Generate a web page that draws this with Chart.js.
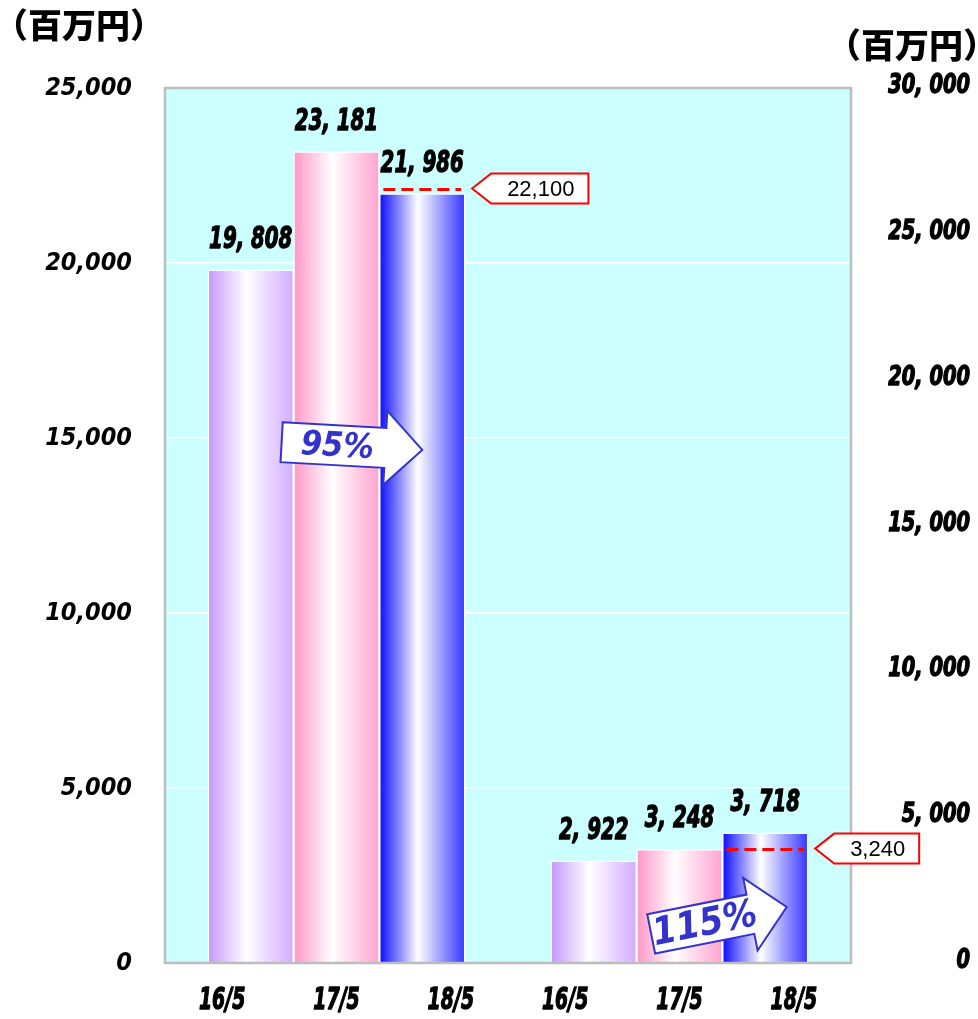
<!DOCTYPE html>
<html>
<head>
<meta charset="utf-8">
<script src="https://cdn.jsdelivr.net/npm/chart.js@4"></script>
<style>
  body { margin: 0; background: #fff; }
  #wrap { width: 978px; height: 1019px; }
</style>
</head>
<body>
<div id="wrap"><canvas id="salesChart" width="978" height="1019"></canvas></div>
<script>
// periods shown under each group of bars
const periods = ['16/5', '17/5', '18/5'];
// left group and right group results (百万円)
const groupA = [19808, 23181, 21986];
const groupB = [2922, 3248, 3718];
// plan values for the latest period of each group
const targets = [22100, 3240];
// year-on-year ratio shown in the arrows
const ratios = ['95%', '115%'];
// axis ranges
const leftMax = 25000, leftStep = 5000;
const rightMax = 30000, rightStep = 5000;

// bar colours per period: [edge, far edge]
const barColors = [
  ['#C596FF', '#D3ABFF'],
  ['#FF96C8', '#FFA3CF'],
  ['#0A0AFF', '#3535FF']
];

// slots: blank, group A, blank, group B, blank
const slots = [''].concat(periods, [''], periods, ['']);
const slotValues = [null].concat(groupA, [null], groupB, [null]);
const targetSlots = [3, 7];

const COND = "'DejaVu Sans Condensed', 'DejaVu Sans', sans-serif";

function spaced(v) {
  return v.toLocaleString('en-US').replace(/,/g, ', ');
}

// heavy squeezed text for the numbers drawn by hand
function squeezed(c, txt, x, y, align, size, sx) {
  c.save();
  c.translate(x, y);
  c.scale(sx, 1);
  c.font = 'italic bold ' + size + 'px ' + COND;
  c.textAlign = align;
  c.textBaseline = 'middle';
  c.fillStyle = '#000';
  c.strokeStyle = '#000';
  c.lineWidth = 1.3;
  c.lineJoin = 'round';
  c.strokeText(txt, 0, 0);
  c.fillText(txt, 0, 0);
  c.restore();
}

function barFill(ctx) {
  const chart = ctx.chart;
  const xs = chart.scales.x;
  const i = ctx.dataIndex;
  const c = barColors[(i % 4) - 1] || barColors[0];
  if (ctx.type !== 'data' || !xs) return c[0];
  const cx = xs.getPixelForValue(i);
  const half = (xs.getPixelForValue(1) - xs.getPixelForValue(0)) / 2;
  if (!isFinite(cx) || !isFinite(half) || half <= 0) return c[0];
  const g = chart.ctx.createLinearGradient(cx - half, 0, cx + half, 0);
  g.addColorStop(0, c[0]);
  g.addColorStop(0.45, '#ffffff');
  g.addColorStop(1, c[1]);
  return g;
}

// arrows in data coordinates: [start index, start value, tip index, tip value]
const arrowSpots = [
  [1.36, 14880, 3.0, 14660],
  [5.67, 830, 7.25, 1600]
];

function drawArrow(c, x0, y0, x1, y1, label, fontSize) {
  const len = Math.hypot(x1 - x0, y1 - y0);
  const ang = Math.atan2(y1 - y0, x1 - x0);
  const h = 20, H = 37, hl = 37;
  c.save();
  c.translate(x0, y0);
  c.rotate(ang);
  c.beginPath();
  c.moveTo(0, -h);
  c.lineTo(len - hl, -h);
  c.lineTo(len - hl, -H);
  c.lineTo(len, 0);
  c.lineTo(len - hl, H);
  c.lineTo(len - hl, h);
  c.lineTo(0, h);
  c.closePath();
  c.fillStyle = '#ffffff';
  c.fill();
  c.lineWidth = 2;
  c.strokeStyle = '#3333CC';
  c.stroke();
  c.fillStyle = '#3333CC';
  c.font = 'italic bold ' + fontSize + 'px ' + COND;
  c.textAlign = 'center';
  c.textBaseline = 'middle';
  c.fillText(label, (len - hl) / 2 + 4, 2);
  c.restore();
}

const decorations = {
  id: 'decorations',
  beforeDraw(chart) {
    const c = chart.ctx;
    const a = chart.chartArea;
    c.save();
    c.fillStyle = '#ffffff';
    c.fillRect(0, 0, chart.width, chart.height);
    c.fillStyle = '#CCFFFF';
    c.fillRect(a.left, a.top, a.right - a.left, a.bottom - a.top);
    c.restore();
  },
  afterDatasetsDraw(chart) {
    const c = chart.ctx;
    const a = chart.chartArea;
    const ys = chart.scales.y;
    const y2 = chart.scales.y2;
    const xs = chart.scales.x;
    const xl = chart.scales.xl;
    const bars = chart.getDatasetMeta(0).data;
    c.save();

    // plot frame
    c.strokeStyle = '#BDBDBD';
    c.lineWidth = 2.5;
    c.strokeRect(a.left, a.top, a.right - a.left, a.bottom - a.top);

    // value labels
    slotValues.forEach((v, i) => {
      if (v === null) return;
      const b = bars[i];
      squeezed(c, spaced(v), b.x, b.y - 30, 'center', 31, 0.71);
    });

    // period labels under the groups
    xl.ticks.forEach((t, i) => {
      squeezed(c, xl.getLabelForValue(t.value), xl.getPixelForTick(i), a.bottom + 38, 'center', 31, 0.68);
    });

    // right-hand axis labels
    y2.ticks.forEach(t => {
      squeezed(c, spaced(t.value), chart.width - 8, y2.getPixelForValue(t.value) - 2, 'right', 27, 0.8);
    });

    // plan lines and callouts
    targets.forEach((t, k) => {
      const b = bars[targetSlots[k]];
      const y = ys.getPixelForValue(t);
      c.strokeStyle = '#FF0000';
      c.lineWidth = 3;
      c.setLineDash([12, 6]);
      c.beginPath();
      c.moveTo(b.x - b.width / 2 + 4, y);
      c.lineTo(b.x + b.width / 2 - 4, y);
      c.stroke();
      c.setLineDash([]);

      const txt = t.toLocaleString('en-US');
      c.font = "22px 'Liberation Sans', Arial, sans-serif";
      const tw = c.measureText(txt).width;
      const tipX = b.x + b.width / 2 + 7;
      const boxL = tipX + 19;
      const boxR = boxL + tw + 30;
      c.beginPath();
      c.moveTo(tipX, y - 1);
      c.lineTo(boxL, y - 16);
      c.lineTo(boxR, y - 16);
      c.lineTo(boxR, y + 14);
      c.lineTo(boxL, y + 14);
      c.closePath();
      c.fillStyle = '#ffffff';
      c.fill();
      c.strokeStyle = '#FF0000';
      c.lineWidth = 2;
      c.stroke();
      c.fillStyle = '#000';
      c.textAlign = 'center';
      c.textBaseline = 'middle';
      c.fillText(txt, (boxL + boxR) / 2 + 1, y);
    });

    // ratio arrows
    arrowSpots.forEach((s, k) => {
      drawArrow(c,
        xs.getPixelForValue(s[0]), ys.getPixelForValue(s[1]),
        xs.getPixelForValue(s[2]), ys.getPixelForValue(s[3]),
        ratios[k], k === 0 ? 34 : 38);
    });

    // unit captions
    c.fillStyle = '#000';
    c.font = "900 34px 'Noto Sans CJK JP', sans-serif";
    c.textAlign = 'center';
    c.textBaseline = 'middle';
    c.fillText('（百万円）', 79, 25);
    c.fillText('（百万円）', 912, 45);
    c.restore();
  }
};

const chart = new Chart(document.getElementById('salesChart'), {
  type: 'bar',
  data: {
    labels: slots,
    datasets: [{
      data: slotValues,
      backgroundColor: barFill,
      borderColor: '#ffffff',
      borderWidth: 1.5,
      barPercentage: 1,
      categoryPercentage: 1,
      xAxisID: 'x',
      yAxisID: 'y'
    }]
  },
  options: {
    responsive: false,
    devicePixelRatio: 1,
    animation: false,
    layout: { padding: { top: 88, right: 8, bottom: 0, left: 0 } },
    plugins: {
      legend: { display: false },
      tooltip: { enabled: false }
    },
    scales: {
      x: {
        type: 'category',
        offset: false,
        display: false
      },
      xl: {
        type: 'category',
        position: 'bottom',
        labels: periods.concat(periods),
        offset: true,
        grid: { display: false },
        border: { display: false },
        ticks: { display: false },
        afterFit(s) { s.height = 56; }
      },
      y: {
        position: 'left',
        min: 0,
        max: leftMax,
        grid: { color: '#ffffff', lineWidth: 1.5, drawTicks: false },
        border: { display: false },
        ticks: {
          stepSize: leftStep,
          color: '#000',
          padding: 33,
          font: { family: COND, size: 25, weight: 'bold', style: 'italic' },
          callback: v => v.toLocaleString('en-US')
        },
        afterFit(s) { s.width = 165; }
      },
      y2: {
        position: 'right',
        min: 0,
        max: rightMax,
        grid: { display: false, drawTicks: false },
        border: { display: false },
        ticks: { stepSize: rightStep, display: false },
        afterFit(s) { s.width = 119; }
      }
    }
  },
  plugins: [decorations]
});
// second pass so the bar gradients see laid-out scales
chart.update();
</script>
</body>
</html>
